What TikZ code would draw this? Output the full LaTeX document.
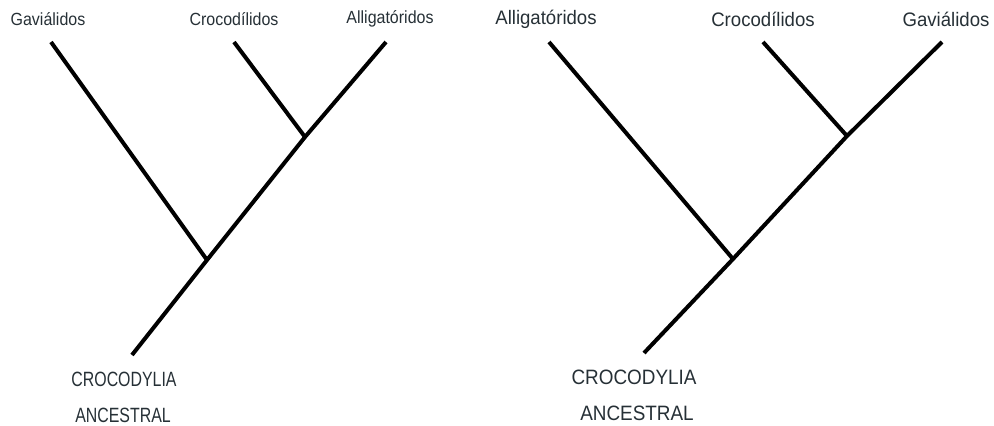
\documentclass[tikz,border=0pt]{standalone}
\usepackage{fontspec}
\setmainfont{Liberation Sans}
\usepackage{graphicx}
\definecolor{txt}{RGB}{38,48,54}
\newcommand{\mylab}[3]{\scalebox{1}[#2]{\fontsize{#1}{#1}\selectfont #3}}
\begin{document}
\begin{tikzpicture}[x=1pt,y=-1pt,
  branch/.style={line width=4pt,black},
  lbl/.style={inner sep=0pt,text=txt}]
\useasboundingbox (0,0) rectangle (994,426);
% left tree
\coordinate (lr) at (132,355);
\coordinate (lj1) at (207,260);
\coordinate (lj2) at (305,137);
\coordinate (lg) at (51,42);
\coordinate (lc) at (234,42);
\coordinate (la) at (386,42);
\draw[branch] (lr) -- (lj1) -- (lj2) -- (la);
\draw[branch] (lg) -- (lj1);
\draw[branch] (lc) -- (lj2);
\node[lbl] (tlg) at (48,19) {\mylab{16}{1.1}{Gaviálidos}};
\node[lbl] (tlc) at (234,19) {\mylab{16}{1.1}{Crocodílidos}};
\node[lbl] (tla) at (390,19) {\mylab{16}{1.1}{Alligatóridos}};
\node[lbl] (tlr1) at (124,379) {\mylab{15.9}{1.3}{CROCODYLIA}};
\node[lbl] (tlr2) at (123,415) {\mylab{15.9}{1.3}{ANCESTRAL}};
% right tree
\coordinate (rr) at (644,353);
\coordinate (rj1) at (733,259);
\coordinate (rj2) at (847,136);
\coordinate (ra) at (549,42);
\coordinate (rc) at (763,42);
\coordinate (rg) at (942,42);
\draw[branch] (rr) -- (rj1) -- (rj2) -- (rg);
\draw[branch] (ra) -- (rj1);
\draw[branch] (rc) -- (rj2);
\node[lbl] (tra) at (546,19) {\mylab{18.6}{1.05}{Alligatóridos}};
\node[lbl] (trc) at (763,19) {\mylab{18.6}{1.05}{Crocodílidos}};
\node[lbl] (trg) at (946,19) {\mylab{18.6}{1.05}{Gaviálidos}};
\node[lbl] (trr1) at (634,377) {\mylab{18.9}{1.1}{CROCODYLIA}};
\node[lbl] (trr2) at (637,413) {\mylab{18.9}{1.1}{ANCESTRAL}};
\end{tikzpicture}
\end{document}
